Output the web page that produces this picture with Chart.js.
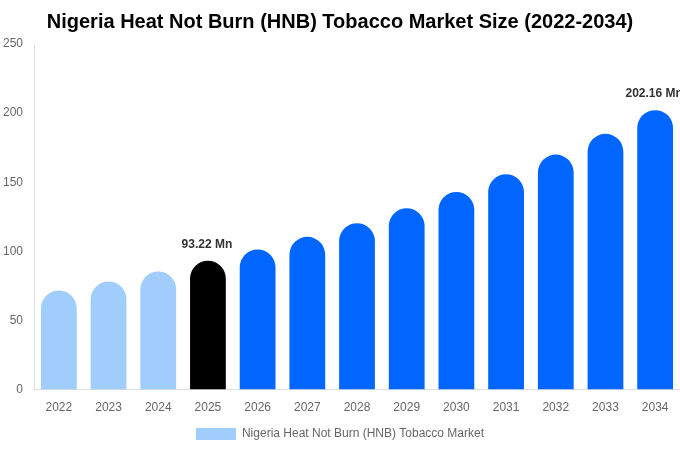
<!DOCTYPE html>
<html>
<head>
<meta charset="utf-8">
<script src="https://cdn.jsdelivr.net/npm/chart.js@4"></script>
<style>
  body { margin: 0; background: #fff; }
  #wrap { width: 680px; height: 450px; }
</style>
</head>
<body>
<div id="wrap"><canvas id="marketChart"></canvas></div>
<script>
const years = ["2022", "2023", "2024", "2025", "2026", "2027", "2028", "2029", "2030", "2031", "2032", "2033", "2034"];
const marketSize = [71.7, 78.2, 85.5, 93.22, 101.4, 110.5, 120.4, 131.2, 143.0, 155.8, 170.0, 185.0, 202.16];
const labelledYears = ["2025", "2034"];
const yTicks = [0, 50, 100, 150, 200, 250];

const baseYear = "2025";

const barColors = years.map((y) => {
  if (y < baseYear) return "#a0cdfc";
  if (y === baseYear) return "#000000";
  return "#0066ff";
});

// draws "xx.xx Mn" above the highlighted bars
const valueLabels = {
  id: "valueLabels",
  afterDatasetsDraw(chart) {
    const { ctx } = chart;
    const meta = chart.getDatasetMeta(0);
    ctx.save();
    ctx.font = "bold 12px 'Liberation Sans', Arial, sans-serif";
    ctx.fillStyle = "#333333";
    ctx.textAlign = "center";
    ctx.textBaseline = "middle";
    years.forEach((y, i) => {
      if (!labelledYears.includes(y)) return;
      const bar = meta.data[i];
      ctx.fillText(`${marketSize[i].toFixed(2)} Mn`, bar.x - 1, bar.y - 16);
    });
    ctx.restore();
  },
};

new Chart(document.getElementById("marketChart"), {
  type: "bar",
  data: {
    labels: years,
    datasets: [
      {
        label: "Nigeria Heat Not Burn (HNB) Tobacco Market",
        data: marketSize,
        backgroundColor: barColors,
        borderRadius: { topLeft: 18, topRight: 18 },
        borderSkipped: "bottom",
        barPercentage: 0.9,
        categoryPercentage: 0.8,
      },
    ],
  },
  options: {
    responsive: true,
    maintainAspectRatio: false,
    animation: false,
    layout: { padding: { top: 10, right: 0, left: 0, bottom: 0 } },
    plugins: {
      title: {
        display: true,
        text: "Nigeria Heat Not Burn (HNB) Tobacco Market Size (2022-2034)",
        color: "#000",
        font: { family: "'Liberation Sans', Arial, sans-serif", size: 20, weight: "bold" },
        padding: { top: 0, bottom: 10 },
      },
      legend: {
        display: true,
        position: "bottom",
        labels: {
          color: "#666",
          boxWidth: 40,
          boxHeight: 12,
          font: { family: "'Liberation Sans', Arial, sans-serif", size: 12 },
        },
      },
      tooltip: { enabled: false },
    },
    scales: {
      x: {
        grid: { display: false },
        border: { color: "#dddddd" },
        ticks: { color: "#666", font: { family: "'Liberation Sans', Arial, sans-serif", size: 12 } },
      },
      y: {
        min: yTicks[0],
        max: yTicks[yTicks.length - 1],
        grid: { display: false },
        border: { color: "#dddddd" },
        afterBuildTicks(axis) {
          axis.ticks = yTicks.map((v) => ({ value: v }));
        },
        ticks: { color: "#666", font: { family: "'Liberation Sans', Arial, sans-serif", size: 12 } },
      },
    },
  },
  plugins: [valueLabels],
});
</script>
</body>
</html>
